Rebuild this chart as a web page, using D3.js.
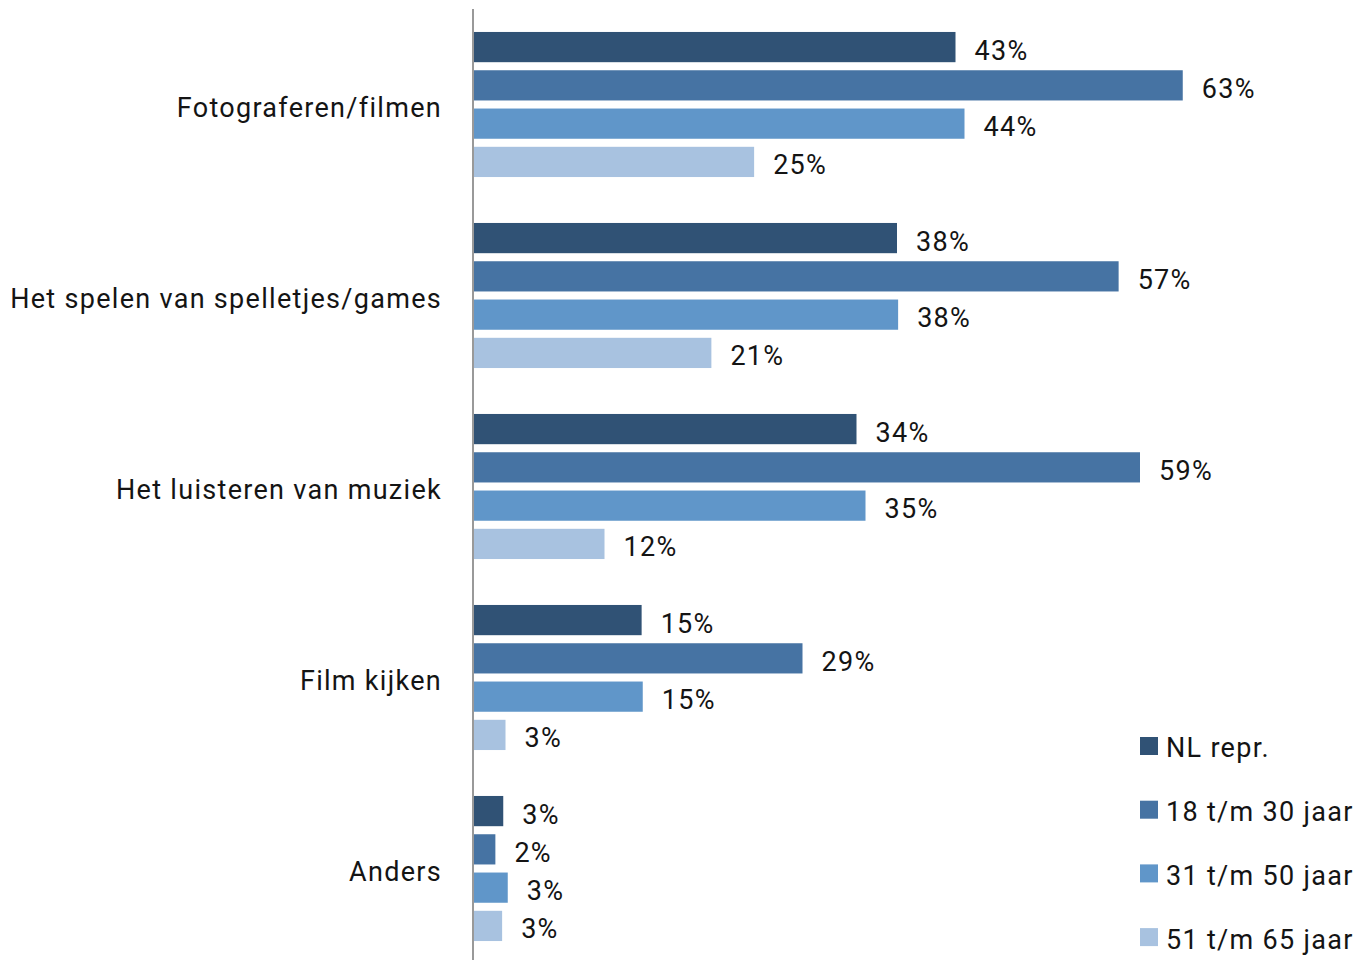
<!DOCTYPE html>
<html>
<head>
<meta charset="utf-8">
<script src="https://cdn.jsdelivr.net/npm/d3@7/dist/d3.min.js"></script>
<style>
  html, body { margin: 0; padding: 0; background: #fff; }
  svg { display: block; font-family: Roboto, "Noto Sans", sans-serif; }
</style>
</head>
<body>
<svg id="chart" width="1359" height="960"></svg>
<script>
const categories = ["Fotograferen/filmen", "Het spelen van spelletjes/games", "Het luisteren van muziek", "Film kijken", "Anders"];
const seriesNames = ["NL repr.", "18 t/m 30 jaar", "31 t/m 50 jaar", "51 t/m 65 jaar"];
const nlRepr   = [42.8, 37.6, 34.0, 14.9, 2.6];
const age18_30 = [63.0, 57.3, 59.2, 29.2, 1.9];
const age31_50 = [43.6, 37.7, 34.8, 15.0, 3.0];
const age51_65 = [24.9, 21.1, 11.6, 2.8, 2.5];
const colors = ["#305275", "#4673A3", "#6096C9", "#A8C2E0"];

const seriesValues = [nlRepr, age18_30, age31_50, age51_65];
const data = categories.map((c, i) => ({
  cat: c,
  vals: seriesNames.map((s, j) => ({ series: s, idx: j, value: seriesValues[j][i] }))
}));

const svg = d3.select("#chart");
const x0 = 474;
const x = d3.scaleLinear().domain([0, 100]).range([x0, x0 + 1125]);
const y = d3.scaleBand().domain(categories).range([9, 964]).paddingInner(0).paddingOuter(0);
const yInner = d3.scaleBand().domain(seriesNames).range([0, y.bandwidth()]).paddingInner(8/38).paddingOuter(0.6);
const fmt = v => d3.format(".0f")(v) + "%";
const LS = "1.3px";

const g = svg.selectAll("g.cat").data(data).join("g")
  .attr("class", "cat")
  .attr("transform", d => `translate(0,${y(d.cat)})`);

g.selectAll("rect").data(d => d.vals).join("rect")
  .attr("x", x(0))
  .attr("y", d => yInner(d.series))
  .attr("width", d => x(d.value) - x(0))
  .attr("height", yInner.bandwidth())
  .attr("fill", d => colors[d.idx]);

g.selectAll("text.val").data(d => d.vals).join("text")
  .attr("class", "val")
  .attr("x", d => x(d.value) + 19)
  .attr("y", d => yInner(d.series) + yInner.bandwidth() / 2 + 3)
  .attr("dy", "0.35em")
  .attr("font-size", 27)
  .attr("letter-spacing", LS)
  .attr("fill", "#141414")
  .text(d => fmt(d.value));

// category labels
svg.selectAll("text.catlabel").data(categories).join("text")
  .attr("class", "catlabel")
  .attr("x", 442)
  .attr("y", d => y(d) + y.bandwidth() / 2 + 3)
  .attr("dy", "0.35em")
  .attr("text-anchor", "end")
  .attr("font-size", 27)
  .attr("letter-spacing", LS)
  .attr("fill", "#141414")
  .text(d => d);

// axis line
const yAxis = d3.axisLeft(y).tickSize(0).tickFormat("");
svg.append("g").attr("transform", `translate(${x0 - 1},0)`).call(yAxis)
  .call(a => a.select(".domain").attr("stroke", "#999").attr("stroke-width", 2).attr("d", "M0,9V960"));

// legend
const legend = svg.append("g").attr("transform", "translate(1140,746)");
const li = legend.selectAll("g").data(seriesNames).join("g")
  .attr("transform", (d, i) => `translate(0,${i * 63.7})`);
li.append("rect").attr("x", 0).attr("y", -9).attr("width", 18).attr("height", 18)
  .attr("fill", (d, i) => colors[i]);
li.append("text").attr("x", 26).attr("y", 2).attr("dy", "0.35em")
  .attr("font-size", 27).attr("letter-spacing", LS).attr("fill", "#141414").text(d => d);
</script>
</body>
</html>
